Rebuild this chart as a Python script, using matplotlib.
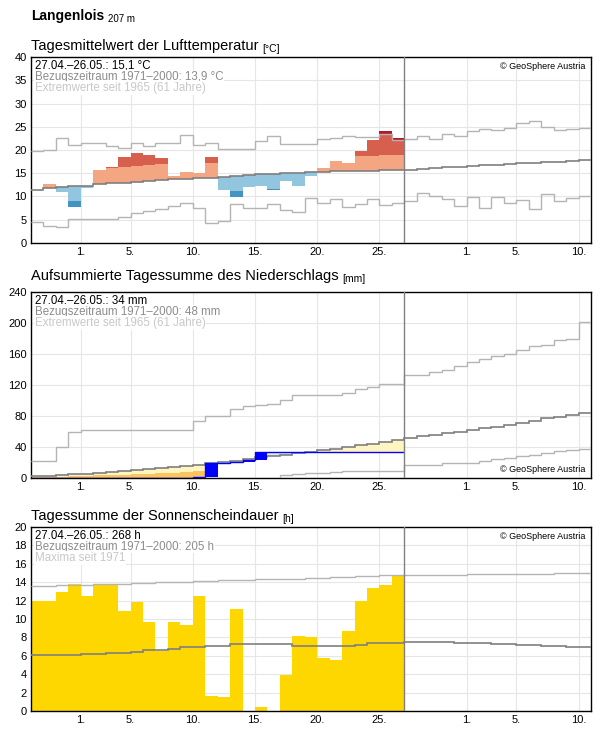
import numpy as np
import matplotlib.pyplot as plt

# days: index 0 = 27.04., 45 days through 10.06.; observed until index 29 (26.05.)
tick_pos = [4, 8, 13, 18, 23, 28, 35, 39, 44]
tick_lab = ['1.', '5.', '10.', '15.', '20.', '25.', '1.', '5.', '10.']

temp_obs = [11.4, 12.7, 11.0, 7.8, 11.9, 15.6, 16.3, 18.6, 19.4, 18.9, 18.2, 14.4, 15.2, 15.0, 18.6,
            11.4, 9.8, 12.0, 12.2, 11.5, 13.3, 12.3, 14.4, 16.1, 17.6, 17.3, 19.7, 22.1, 24.0, 22.6]
temp_clim = [11.5, 11.8, 12.0, 12.3, 12.3, 12.6, 12.8, 13.0, 13.2, 13.4, 13.6, 13.7, 13.8, 13.9, 14.0,
             14.2, 14.4, 14.6, 14.8, 14.9, 15.0, 15.1, 15.2, 15.3, 15.4, 15.4, 15.5, 15.5, 15.6, 15.7,
             15.8, 16.0, 16.1, 16.3, 16.4, 16.6, 16.7, 16.8, 17.0, 17.1, 17.3, 17.4, 17.5, 17.7, 17.8]
temp_max = [19.7, 20.1, 22.6, 21.0, 21.5, 21.5, 20.8, 20.5, 21.5, 20.9, 21.6, 21.5, 23.3, 21.1, 21.4,
            20.3, 20.3, 20.3, 21.9, 23.0, 21.3, 21.3, 21.3, 22.3, 22.6, 23.1, 22.9, 22.7, 23.5, 22.2,
            22.4, 23.0, 22.3, 23.5, 23.0, 24.0, 24.5, 24.4, 24.8, 25.8, 26.3, 25.0, 24.2, 24.5, 24.8]
temp_min = [4.5, 3.6, 3.4, 5.2, 5.2, 5.2, 5.2, 5.5, 6.4, 6.8, 7.4, 7.9, 8.5, 7.5, 4.2,
            4.7, 8.3, 7.5, 7.5, 8.3, 7.0, 6.6, 9.7, 8.5, 9.4, 7.8, 8.4, 9.4, 8.1, 8.5,
            9.0, 10.8, 10.0, 9.5, 8.0, 9.8, 7.5, 9.8, 8.6, 9.2, 7.4, 10.5, 9.0, 9.6, 10.0]

rain_obs = [0, 0, 0, 0, 0, 0, 0, 0, 0, 0, 0, 0, 0, 1, 19.4, 19.4, 20.5, 23.7, 34, 34,
            34, 34, 34, 34, 34, 34, 34, 34, 34, 34]
rain_clim = [2, 2, 3.4, 5, 5, 6.5, 7.7, 9, 10, 11, 12.5, 14, 15.5, 17, 19, 20.6, 22.4, 24.5, 26.7, 28,
             30, 32, 33.5, 36.5, 38, 39.6, 43, 44.3, 46, 49,
             52, 54, 56, 58, 60, 62, 64, 66, 68, 71, 74, 77, 79, 81, 84]
rain_max = [21.5, 21.5, 40, 59, 61.5, 61.5, 61.5, 61.5, 61.5, 61.5, 61.5, 61.5, 61.5, 73, 79.5, 80.4,
            89, 93, 94, 95.5, 101, 107, 107, 107, 107, 110, 115, 118, 121, 121,
            133, 133, 137, 140, 145, 150, 153, 157, 160, 165, 170, 172, 178, 180, 201]
rain_min = [0, 0, 0, 0, 0, 0, 0, 0, 0, 0, 0, 0, 0, 0, 0, 0, 0, 0, 0, 0,
            4, 5, 6, 7, 8, 9, 9, 9, 9, 9,
            17, 17, 17, 19, 20, 20, 22, 24, 26, 28, 30, 32, 35, 36, 38]

sun_obs = [12.0, 12.0, 12.9, 13.85, 12.5, 13.8, 13.7, 10.85, 11.8, 9.65, 6.5, 9.65, 9.3, 12.5, 1.6,
           1.5, 11.1, 0, 0.45, 0, 3.95, 8.15, 8.0, 5.75, 5.55, 8.7, 12.0, 13.35, 13.7, 14.75]
sun_clim = [6.05, 6.05, 6.05, 6.05, 6.2, 6.2, 6.3, 6.3, 6.45, 6.6, 6.6, 6.7, 7.0, 7.0, 7.1,
            7.1, 7.25, 7.25, 7.25, 7.25, 7.25, 7.1, 7.05, 7.05, 7.05, 7.05, 7.2, 7.35, 7.35, 7.35,
            7.45, 7.55, 7.5, 7.45, 7.4, 7.35, 7.35, 7.3, 7.25, 7.2, 7.15, 7.1, 7.05, 7.0, 7.0]
sun_max = [13.6, 13.6, 13.7, 13.7, 13.7, 13.8, 13.8, 13.8, 13.9, 13.9, 14.0, 14.0, 14.0, 14.1, 14.1,
           14.2, 14.2, 14.2, 14.3, 14.3, 14.4, 14.4, 14.5, 14.5, 14.6, 14.6, 14.7, 14.7, 14.8, 14.8,
           14.8, 14.8, 14.8, 14.8, 14.8, 14.9, 14.9, 14.9, 14.9, 14.9, 14.9, 14.9, 15.0, 15.0, 15.0]

W, H = 596, 729
plt.rcParams['font.family'] = ['Liberation Sans', 'DejaVu Sans']
fig = plt.figure(figsize=(W / 100, H / 100), dpi=100)


def mkax(top, bottom):
    return fig.add_axes([31 / W, 1 - bottom / H, 560 / W, (bottom - top) / H])


def style(ax, ymax, ystep, title, unit, ty):
    ax.set_xlim(0, 45)
    ax.set_ylim(0, ymax)
    ax.set_yticks(np.arange(0, ymax + 1, ystep))
    ax.set_xticks(tick_pos)
    ax.set_xticklabels(tick_lab)
    ax.tick_params(length=0, labelsize=8, pad=3)
    ax.grid(color='#e6e6e6', lw=0.8, zorder=0)
    ax.set_axisbelow(True)
    ax.axvline(30, color='#808080', lw=1, zorder=6)
    for s in ax.spines.values():
        s.set_linewidth(1)
    t = fig.text(31 / W, 1 - ty / H, title, fontsize=10.5, va='baseline')
    ax.annotate(unit, xy=(1, 0), xycoords=t, xytext=(2.5, -0.5), textcoords='offset points',
                fontsize=7.5, va='bottom', annotation_clip=False)


def legend(ax, l1, l2, l3, cp_top=True):
    box = dict(facecolor='white', edgecolor='none', pad=0.5)
    ax.text(0.007, 0.985, l1, transform=ax.transAxes, fontsize=8.3, va='top', color='black', bbox=box, zorder=7)
    ax.text(0.007, 0.925, l2, transform=ax.transAxes, fontsize=8.3, va='top', color='#8c8c8c', bbox=box, zorder=7)
    ax.text(0.007, 0.865, l3, transform=ax.transAxes, fontsize=8.3, va='top', color='#c8c8c8', bbox=box, zorder=7)
    if cp_top:
        ax.text(0.99, 0.975, '© GeoSphere Austria', transform=ax.transAxes, fontsize=6.5, va='top', ha='right')
    else:
        ax.text(0.99, 0.02, '© GeoSphere Austria', transform=ax.transAxes, fontsize=6.5, va='bottom', ha='right')


edges = np.arange(46)
n = len(temp_obs)

# temperature
ax1 = mkax(57, 243)
style(ax1, 40, 5, 'Tagesmittelwert der Lufttemperatur', '[°C]', 50)
for i in range(n):
    v, c, mx, mn = temp_obs[i], temp_clim[i], temp_max[i], temp_min[i]
    if v >= c:
        segs = [(c, min(v, c + 3.3), '#f4a582'), (c + 3.3, min(v, mx), '#d6604d'), (mx, v, '#b2182b')]
    else:
        segs = [(max(v, c - 3.3), c, '#92c5de'), (max(v, mn), c - 3.3, '#4393c3'), (v, mn, '#2166ac')]
    for lo, hi, col in segs:
        if hi > lo:
            ax1.bar(i, hi - lo, bottom=lo, width=1, align='edge', color=col, lw=0, zorder=2)
ax1.stairs(temp_max, edges, color='#b4b4b4', lw=1, zorder=3, baseline=None)
ax1.stairs(temp_min, edges, color='#b4b4b4', lw=1, zorder=3, baseline=None)
ax1.stairs(temp_clim, edges, color='#7f7f7f', lw=1.2, zorder=4, baseline=None)
legend(ax1, '27.04.–26.05.: 15,1 °C', 'Bezugszeitraum 1971–2000: 13,9 °C', 'Extremwerte seit 1965 (61 Jahre)')

# headline
hd = fig.text(31 / W, 1 - 20 / H, 'Langenlois', fontsize=10, fontweight='bold', va='baseline')
ax1.annotate('207 m', xy=(1, 0), xycoords=hd, xytext=(3, -0.5), textcoords='offset points',
             fontsize=7, va='bottom', annotation_clip=False)

# precipitation
ax2 = mkax(292, 478)
style(ax2, 240, 40, 'Aufsummierte Tagessumme des Niederschlags', '[mm]', 280)
ro = np.array(rain_obs, float)
rc = np.array(rain_clim[:n], float)
half = rc * 0.5
for i in range(n):
    if ro[i] < half[i]:
        ax2.bar(i, half[i] - ro[i], bottom=ro[i], width=1, align='edge', color='#fdc35f', lw=0, zorder=2)
        ax2.bar(i, rc[i] - half[i], bottom=half[i], width=1, align='edge', color='#fff5c0', lw=0, zorder=2)
    elif ro[i] < rc[i]:
        ax2.bar(i, rc[i] - ro[i], bottom=ro[i], width=1, align='edge', color='#fff5c0', lw=0, zorder=2)
    else:
        ax2.bar(i, ro[i] - rc[i], bottom=rc[i], width=1, align='edge', color='#dcefdc', lw=0, zorder=2)
    prev = ro[i - 1] if i > 0 else 0
    if ro[i] > prev:
        ax2.bar(i, ro[i] - prev, bottom=prev, width=1, align='edge', color='#0000ff', lw=0, zorder=5)
ax2.stairs(rain_max, edges, color='#b4b4b4', lw=1, zorder=3, baseline=None)
ax2.stairs(rain_min, edges, color='#b4b4b4', lw=1, zorder=3, baseline=None)
ax2.stairs(rain_clim, edges, color='#7f7f7f', lw=1.2, zorder=4, baseline=None)
ax2.stairs(rain_obs, edges[:n + 1], color='#0000ff', lw=1, zorder=5, baseline=None)
legend(ax2, '27.04.–26.05.: 34 mm', 'Bezugszeitraum 1971–2000: 48 mm', 'Extremwerte seit 1965 (61 Jahre)', cp_top=False)

# sunshine
ax3 = mkax(527, 711)
style(ax3, 20, 2, 'Tagessumme der Sonnenscheindauer', '[h]', 520)
ax3.bar(np.arange(n), sun_obs, width=1, align='edge', color='#ffd700', lw=0, zorder=2)
ax3.stairs(sun_max, edges, color='#b4b4b4', lw=1, zorder=3, baseline=None)
ax3.stairs(sun_clim, edges, color='#7f7f7f', lw=1.2, zorder=4, baseline=None)
legend(ax3, '27.04.–26.05.: 268 h', 'Bezugszeitraum 1971–2000: 205 h', 'Maxima seit 1971')

fig.savefig('out.png', dpi=100)
